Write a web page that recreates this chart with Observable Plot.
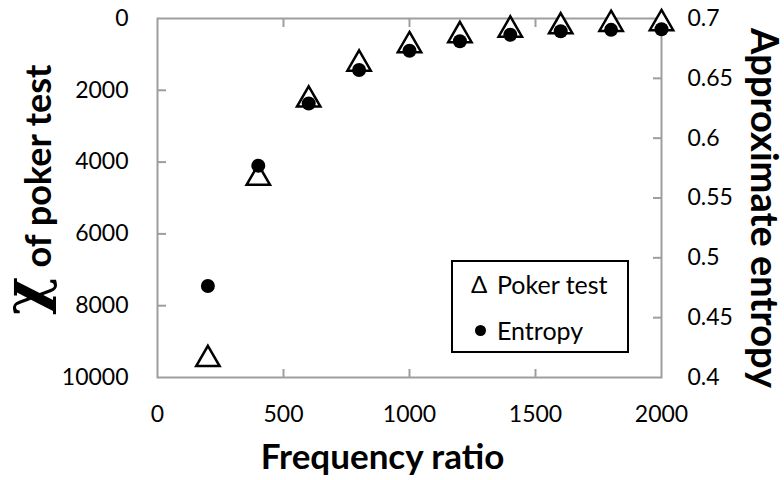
<!DOCTYPE html>
<html>
<head>
<meta charset="utf-8">
<script src="https://cdn.jsdelivr.net/npm/d3@7"></script>
<script src="https://cdn.jsdelivr.net/npm/@observablehq/plot@0.6"></script>
<style>
  html, body { margin: 0; padding: 0; background: #fff; }
  #wrap { position: relative; width: 784px; height: 480px; overflow: hidden; }
  .legend { position: absolute; left: 451px; top: 260px; width: 174px; height: 89px;
            border: 2px solid #000; background: #fff; font-family: Lato, sans-serif; font-size: 25px; color: #000; }
  .row { position: absolute; left: 0; height: 30px; width: 100%; }
  .row .lab { position: absolute; left: 44px; top: 0; line-height: 30px; white-space: nowrap; }
  .row .tri { position: absolute; left: 18px; top: 0; line-height: 30px; font-size: 24px; }
  .row .dot { position: absolute; left: 22px; top: 10px; width: 11px; height: 11px; border-radius: 50%; background: #000; }
</style>
</head>
<body>
<div id="wrap"></div>
<script>
// ---- data ----
const freqRatio = [200, 400, 600, 800, 1000, 1200, 1400, 1600, 1800, 2000];
const pokerChi  = [9400, 4350, 2170, 1170, 655, 376, 223, 130, 64, 45];
const entropy   = [0.4765, 0.577, 0.629, 0.657, 0.673, 0.681, 0.6864, 0.6894, 0.6905, 0.691];

const xTicks = [0, 500, 1000, 1500, 2000];
const chiTicks = [0, 2000, 4000, 6000, 8000, 10000];
const entropyTicks = [0.4, 0.45, 0.5, 0.55, 0.6, 0.65, 0.7];
const seriesNames = ["Poker test", "Entropy"];
const xTitle = "Frequency ratio";
const yTitleLeftSymbol = "\u03C7";
const yTitleLeftText = "of poker test";
const yTitleRight = "Approximate entropy";

// twin axis: entropy domain [0.4, 0.7] mapped onto chi domain [10000, 0]
const entLo = 0.4, entHi = 0.7, chiMax = 10000;
const entToChi = e => (entHi - e) / (entHi - entLo) * chiMax;
const chiToEnt = v => entHi - v / chiMax * (entHi - entLo);

const poker = freqRatio.map((x, i) => ({x, y: pokerChi[i]}));
const ent = freqRatio.map((x, i) => ({x, y: entToChi(entropy[i])}));

// bbox-centred triangle symbol (like spreadsheet markers)
const triangle = {
  draw(ctx, size) {
    const a = Math.sqrt(size / Math.PI);
    const h = a * Math.sqrt(3) / 2;
    ctx.moveTo(0, -h); ctx.lineTo(a, h); ctx.lineTo(-a, h); ctx.closePath();
  }
};

const grey = "#9e9e9e";
const inner = arr => arr.slice(1, -1);
const tickFont = 23;

const chart = Plot.plot({
  width: 784, height: 480,
  marginLeft: 157, marginRight: 123, marginTop: 18, marginBottom: 103,
  style: { fontFamily: "Lato, sans-serif", fontSize: "23px", color: "#000", background: "#fff" },
  x: { domain: [0, 2000] },
  y: { domain: [0, chiMax], reverse: true },
  marks: [
    Plot.frame({ stroke: grey, strokeWidth: 2 }),
    // inward tick marks
    Plot.axisX({ anchor: "bottom", ticks: inner(xTicks), tickSize: -8, stroke: grey, strokeWidth: 2, tickFormat: () => "", label: null }),
    Plot.axisX({ anchor: "top", ticks: inner(xTicks), tickSize: -8, stroke: grey, strokeWidth: 2, tickFormat: () => "", label: null }),
    Plot.axisY({ anchor: "left", ticks: inner(chiTicks), tickSize: -9, stroke: grey, strokeWidth: 2, tickFormat: () => "", label: null }),
    Plot.axisY({ anchor: "right", ticks: inner(entropyTicks).map(entToChi), tickSize: -9, stroke: grey, strokeWidth: 2, tickFormat: () => "", label: null }),
    // tick labels
    Plot.axisX({ anchor: "bottom", ticks: xTicks, tickSize: 0, tickPadding: 28, tickFormat: d => String(d), label: null, fill: "#000", fontSize: tickFont }),
    Plot.axisY({ anchor: "left", ticks: chiTicks, tickSize: 0, tickPadding: 29, tickFormat: d => String(d), label: null, fill: "#000", fontSize: tickFont }),
    Plot.axisY({ anchor: "right", ticks: entropyTicks.map(entToChi), tickSize: 0, tickPadding: 26,
                 tickFormat: v => String(+chiToEnt(v).toFixed(2)), label: null, fill: "#000", fontSize: tickFont }),
    // titles
    Plot.text([xTitle], { frameAnchor: "bottom", textAnchor: "middle", lineAnchor: "middle", dx: -27, dy: 80, fontSize: 35, fontWeight: "bold", fill: "#000" }),
    Plot.text([yTitleLeftText], { frameAnchor: "left", textAnchor: "middle", lineAnchor: "middle", dx: -118.5, dy: -32, rotate: -90, fontSize: 36, fontWeight: "bold", fill: "#000" }),
    Plot.text([yTitleLeftSymbol], { frameAnchor: "left", textAnchor: "middle", lineAnchor: "middle", dx: -132, dy: 98, rotate: -90, fontSize: 58, fontWeight: "bold", fontFamily: "DejaVu Serif, serif", fill: "#000" }),
    Plot.text([yTitleRight], { frameAnchor: "right", textAnchor: "middle", lineAnchor: "middle", dx: 102, dy: 10, rotate: 90, fontSize: 38, fontWeight: "bold", fill: "#000" }),
    // data
    Plot.dot(poker, { x: "x", y: "y", symbol: triangle, r: 11.7, stroke: "#000", strokeWidth: 2.5, fill: "#fff", strokeLinejoin: "miter" }),
    Plot.dot(ent, { x: "x", y: "y", symbol: "circle", r: 7, fill: "#000", stroke: "none" })
  ]
});

const wrap = document.getElementById("wrap");
wrap.appendChild(chart);

// legend (overlay inside the plot area)
const legend = document.createElement("div");
legend.className = "legend";
legend.innerHTML =
  `<div class="row" style="top:7px"><span class="tri">\u0394</span><span class="lab">${seriesNames[0]}</span></div>` +
  `<div class="row" style="top:53px"><span class="dot"></span><span class="lab">${seriesNames[1]}</span></div>`;
wrap.appendChild(legend);
</script>
</body>
</html>
